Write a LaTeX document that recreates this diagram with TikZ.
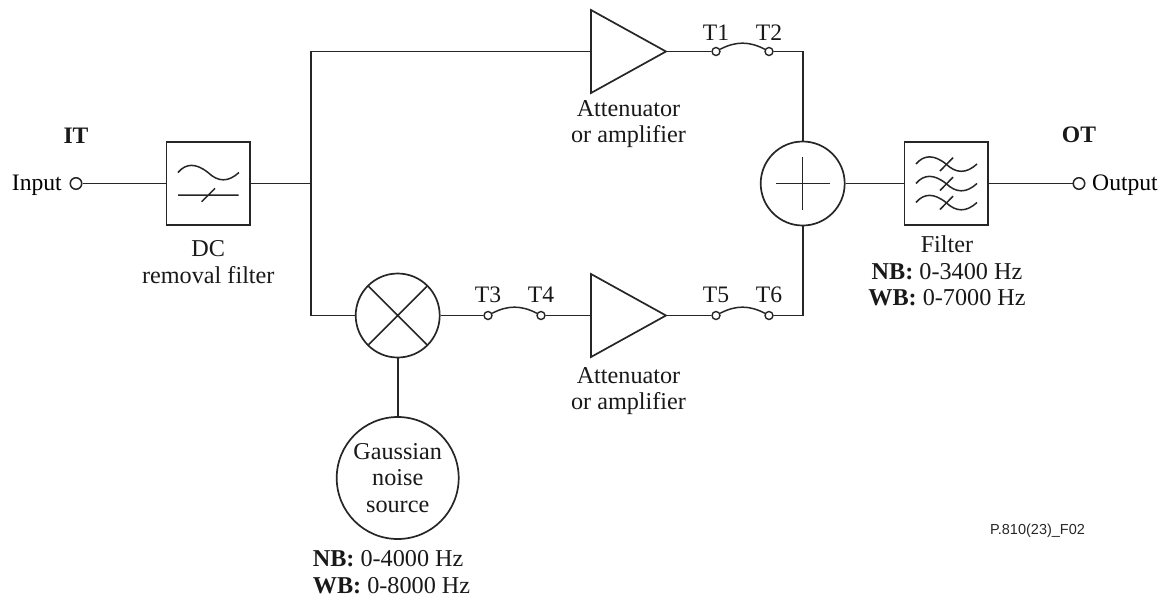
\documentclass[tikz,border=0pt]{standalone}
\usepackage{fontspec}
\setmainfont{Liberation Serif}
\newfontfamily\codefont{Liberation Sans}
\tikzset{
  x=1pt,y=-1pt,
  wire/.style={line width=1.7pt,draw=black!85},
  thin wire/.style={line width=1.5pt,draw=black!85},
  blockbox/.style={draw=black!85,line width=1.7pt,fill=white,minimum size=83.5pt,inner sep=0pt,rectangle},
  roundblock/.style={draw=black!85,line width=1.7pt,fill=white,circle,inner sep=0pt,minimum size=84pt},
  terminal/.style={draw=black!85,line width=1.4pt,fill=white,circle,inner sep=0pt,minimum size=8pt},
  port/.style={draw=black!85,line width=1.5pt,fill=white,circle,inner sep=0pt,minimum size=11.5pt},
  amp/.style={draw=black!85,line width=1.7pt,fill=white,line join=miter},
  label/.style={inner sep=0pt,align=center,font=\fontsize{24.2}{26.6}\selectfont,text=black!90},
  tag/.style={inner sep=0pt,anchor=base,font=\fontsize{23.6}{26.6}\selectfont,text=black!90},
}
\newcommand{\wavefrom}[3]{% x start, y start, width
  (#1,#2) .. controls (#1+8,#2-9.5) and (#1+18,#2-9.5) .. (#1+30,#2) .. controls (#1+40,#2+9.5) and (#1+50,#2+10) .. (#1+#3,#2)}
\begin{document}
\begin{tikzpicture}
\useasboundingbox (0,0) rectangle (1168,598);
% blocks
\node[port] (in) at (76,183.5) {};
\node[blockbox] (dc) at (208.3,183.5) {};
\coordinate (split) at (311,183.5);
\coordinate (topc) at (311,51.5);
\coordinate (botc) at (311,315.5);
\node[roundblock] (mix) at (397.7,315.5) {};
\node[roundblock,minimum size=122pt,label,draw=black!85] (gauss) at (397.7,478) {Gaussian\\noise\\source};
\node[terminal] (t1) at (716,51.5) {};
\node[terminal] (t2) at (769,51.5) {};
\node[terminal] (t3) at (488,315.5) {};
\node[terminal] (t4) at (541,315.5) {};
\node[terminal] (t5) at (716,315.5) {};
\node[terminal] (t6) at (769,315.5) {};
\node[roundblock] (sum) at (802.7,183.5) {};
\node[blockbox] (flt) at (946.3,183.5) {};
\node[port] (out) at (1079,183.5) {};
% amplifiers
\coordinate (a1in) at (591,51.5);
\coordinate (a1out) at (666,51.5);
\coordinate (a2in) at (591,315.5);
\coordinate (a2out) at (666,315.5);
\draw[amp] (591,10) -- (666,51.5) -- (591,93) -- cycle;
\draw[amp] (591,274) -- (666,315.5) -- (591,357) -- cycle;
% connectors
\draw[wire] (in) -- (dc);
\draw[wire] (dc) -- (split);
\draw[wire] (a1in) -- (topc) -- (botc) -- (mix);
\draw[wire] (a1out) -- (t1);
\draw[thin wire] (t1) to[out=28,in=152] (t2);
\draw[wire] (t2) -| (sum);
\draw[wire] (mix) -- (t3);
\draw[thin wire] (t3) to[out=28,in=152] (t4);
\draw[wire] (t4) -- (a2in);
\draw[wire] (a2out) -- (t5);
\draw[thin wire] (t5) to[out=28,in=152] (t6);
\draw[wire] (t6) -| (sum);
\draw[wire] (mix) -- (gauss);
\draw[wire] (sum) -- (flt);
\draw[wire] (flt) -- (out);
% symbols
\draw[thin wire] (368.5,286.3) -- (426.9,344.7) (426.9,286.3) -- (368.5,344.7);
\draw[thin wire] (776,183.5) -- (829.5,183.5) (802.7,157) -- (802.7,210);
\draw[thin wire] \wavefrom{178}{172.5}{61};
\draw[thin wire] (178,195) -- (238.7,195) (201.7,201.7) -- (215,188.3);
\foreach \yy in {164,183.5,202.5}{
  \draw[thin wire] \wavefrom{916}{\yy}{61};
  \draw[thin wire] (940,\yy+7) -- (953,\yy-6.3);
}
% labels
\node[tag] (it) at (76,143) {\textbf{IT}};
\node[inner sep=0pt,anchor=base east,font=\fontsize{23.6}{26.6}\selectfont] (inl) at (62,190) {Input};
\node[label] (dcl) at (208.3,262) {DC\\removal filter};
\node[tag] (ot) at (1079,142.5) {\textbf{OT}};
\node[inner sep=0pt,anchor=base west,font=\fontsize{23.6}{26.6}\selectfont] (outl) at (1092,190) {Output};
\node[label] (a1l) at (628.5,124) {Attenuator\\or amplifier};
\node[label] (a2l) at (628.5,391) {Attenuator\\or amplifier};
\node[label] (fl) at (947,271) {Filter\\\textbf{NB:} 0-3400 Hz\\\textbf{WB:} 0-7000 Hz};
\node[label,align=left] (nl) at (391.5,572) {\textbf{NB:} 0-4000 Hz\\\textbf{WB:} 0-8000 Hz};
\node[tag] (tl1) at (716,40) {T1};
\node[tag] (tl2) at (769,40) {T2};
\node[tag] (tl3) at (488,302) {T3};
\node[tag] (tl4) at (541,302) {T4};
\node[tag] (tl5) at (716,302) {T5};
\node[tag] (tl6) at (769,302) {T6};
\node[inner sep=0pt,font=\codefont\fontsize{14.5}{17}\selectfont,text=black!85] (code) at (1037.5,531) {P.810(23)\_F02};
\end{tikzpicture}
\end{document}
